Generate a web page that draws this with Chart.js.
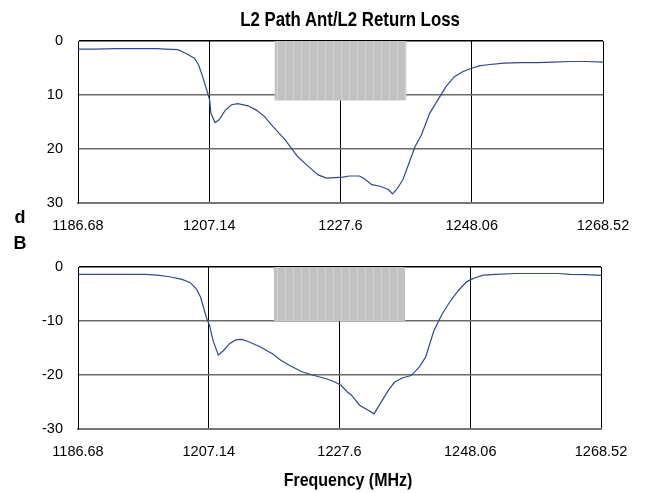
<!DOCTYPE html>
<html>
<head>
<meta charset="utf-8">
<script src="https://cdn.jsdelivr.net/npm/chart.js@4.4.1/dist/chart.umd.min.js"></script>
<style>
  body { margin: 0; background: #fff; }
  #wrap { position: relative; width: 647px; height: 493px; font-family: "Liberation Sans Narrow", "Arial Narrow", "Liberation Sans", Arial, sans-serif; }
  canvas { position: absolute; left: 0; }
  .lbl { position: absolute; transform: translate(-50%, -50%); font-weight: bold; white-space: nowrap; color: #000; line-height: 1; }
  .narrow { transform: translate(-50%, -50%) scaleX(0.84); }
</style>
</head>
<body>
<div id="wrap">
  <canvas id="topChart" width="647" height="240" style="top:0"></canvas>
  <canvas id="bottomChart" width="647" height="253" style="top:240px"></canvas>
  <div class="lbl narrow" style="left:350px; top:19px; font-size:20px;">L2 Path Ant/L2 Return Loss</div>
  <div class="lbl" style="left:20px; top:217px; font-size:18px;">d</div>
  <div class="lbl" style="left:20px; top:243px; font-size:18px;">B</div>
  <div class="lbl narrow" style="left:348px; top:479px; font-size:19px;">Frequency (MHz)</div>
</div>
<script>
const xTicks = [1186.68, 1207.14, 1227.6, 1248.06, 1268.52];

// upper panel: return loss, positive dB, axis drawn downwards
const freqTop = [1186.68, 1189.38, 1192.6, 1199.03, 1200.32, 1202.25, 1203.54, 1204.82, 1205.47, 1206.11, 1206.75, 1207.2,
  1207.4, 1208.04, 1208.68, 1209.65, 1210.61, 1211.58, 1213.19, 1214.47, 1215.76, 1217.05, 1218.98, 1220.91,
  1222.84, 1224.12, 1225.41, 1226.7, 1227.98, 1228.95, 1230.56, 1231.2, 1232.49, 1233.77, 1235.06, 1235.7,
  1236.35, 1237.32, 1238.28, 1239.25, 1240.21, 1241.5, 1242.78, 1244.07, 1245.36, 1246.64, 1247.93, 1249.22,
  1250.5, 1253.08, 1255.65, 1258.22, 1260.8, 1263.37, 1265.94, 1268.52];
const lossTop = [1.5, 1.5, 1.4, 1.4, 1.5, 1.6, 2.3, 3.2, 4.4, 6.6, 9.1, 10.9,
  13.4, 15.1, 14.6, 12.8, 11.8, 11.6, 12.0, 12.8, 14.0, 15.8, 18.3, 21.4,
  23.5, 24.8, 25.4, 25.3, 25.2, 25.0, 25.0, 25.4, 26.6, 26.9, 27.5, 28.3,
  27.5, 25.7, 22.6, 19.5, 17.4, 13.4, 10.9, 8.4, 6.6, 5.7, 5.1, 4.6,
  4.4, 4.1, 4.0, 4.0, 3.9, 3.8, 3.8, 3.9];

// lower panel: same measurement, negative dB
const freqBottom = [1186.68, 1190.69, 1197.14, 1199.08, 1201.02, 1202.96, 1204.25, 1205.22, 1205.87, 1206.32, 1206.84, 1207.29,
  1207.8, 1208.64, 1209.42, 1210.39, 1211.36, 1212.33, 1213.3, 1215.23, 1217.17, 1218.46, 1219.75, 1221.69,
  1223.63, 1225.57, 1226.86, 1227.83, 1228.8, 1229.44, 1230.74, 1232.03, 1233.0, 1233.97, 1235.26, 1236.23,
  1237.52, 1238.81, 1240.1, 1241.07, 1242.37, 1243.66, 1244.95, 1246.24, 1247.53, 1248.82, 1250.12, 1252.05,
  1255.28, 1258.51, 1261.75, 1263.68, 1266.27, 1268.52];
const lossBottom = [-1.35, -1.35, -1.35, -1.5, -1.8, -2.3, -2.9, -4.1, -5.6, -7.5, -9.6, -10.9,
  -13.6, -16.3, -15.5, -14.2, -13.5, -13.4, -13.8, -14.8, -16.1, -17.3, -18.2, -19.4,
  -20.1, -20.7, -21.3, -21.9, -23.1, -23.7, -25.6, -26.5, -27.2, -25.3, -22.8, -21.3,
  -20.5, -20.1, -18.5, -16.7, -11.8, -8.7, -6.3, -4.3, -2.7, -2.0, -1.5, -1.35,
  -1.2, -1.2, -1.2, -1.35, -1.4, -1.55];

// spec mask band (gray box)
const bandFreq = [1217.3, 1237.9];
const bandTop = 11;
const bandBottom = -10;

const tickFont = { family: '"Liberation Sans Narrow", "Arial Narrow", "Liberation Sans", Arial, sans-serif', size: 14.5 };

function stripes() {
  const c = document.createElement("canvas");
  c.width = 8;
  c.height = 1;
  const g = c.getContext("2d");
  g.fillStyle = "#c2c2c2";
  g.fillRect(0, 0, 8, 1);
  g.fillStyle = "#d3d3d3";
  g.fillRect(5, 0, 1, 1);
  return g.createPattern(c, "repeat");
}

function makeChart(id, freq, loss, yMin, yMax, reverse, bandDepth, padding) {
  const ctx = document.getElementById(id).getContext("2d");
  return new Chart(ctx, {
    type: "line",
    data: {
      datasets: [
        {
          data: bandFreq.map((f) => ({ x: f, y: bandDepth })),
          fill: { value: 0 },
          backgroundColor: stripes(),
          borderWidth: 0,
          pointRadius: 0,
        },
        {
          data: freq.map((f, i) => ({ x: f, y: loss[i] })),
          borderColor: "#34478f",
          borderWidth: 1.2,
          pointRadius: 0,
          fill: false,
          tension: 0,
        },
      ],
    },
    options: {
      responsive: false,
      animation: false,
      layout: { padding: padding },
      plugins: { legend: { display: false }, tooltip: { enabled: false } },
      scales: {
        x: {
          type: "linear",
          min: 1186.68,
          max: 1268.52,
          z: 1,
          afterBuildTicks: (axis) => {
            axis.ticks = xTicks.map((v) => ({ value: v }));
          },
          afterFit: (s) => {
            s.height = 30;
          },
          ticks: { font: tickFont, color: "#000", padding: 14, maxRotation: 0, callback: (v) => String(v) },
          grid: { color: "#000", lineWidth: 1, drawTicks: false },
          border: { color: "#777", width: 2 },
        },
        y: {
          min: yMin,
          max: yMax,
          reverse: reverse,
          z: 1,
          afterFit: (s) => {
            s.width = 78;
          },
          ticks: { stepSize: 10, font: tickFont, color: "#000", padding: 15 },
          grid: {
            color: (c) => (c.tick && c.tick.value === 0 ? "#000" : "#6b6b6b"),
            lineWidth: 1.5,
            drawTicks: false,
          },
          border: { color: "#000", width: 1 },
        },
      },
    },
  });
}

makeChart("topChart", freqTop, lossTop, 0, 30, true, bandTop, { top: 41, right: 44, bottom: 7, left: 0 });
makeChart("bottomChart", freqBottom, lossBottom, -30, 0, false, bandBottom, { top: 27, right: 46, bottom: 34, left: 0 });
</script>
</body>
</html>
